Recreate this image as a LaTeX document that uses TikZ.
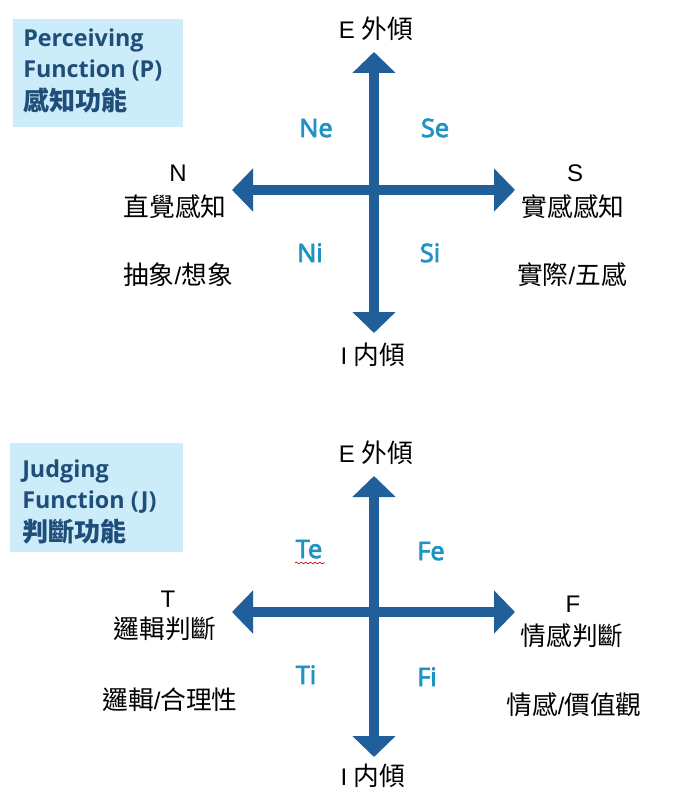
\documentclass[tikz,border=0pt]{standalone}
\usepackage{fontspec}
\setmainfont{Liberation Sans}
\newfontfamily\cjk{Noto Sans CJK TC}[Scale=1.07]
\newfontfamily\headfont{Open Sans}
\newfontfamily\fnfont{Open Sans}[FakeBold=3.2]
\usetikzlibrary{arrows.meta,decorations.pathmorphing}
\definecolor{axisblue}{RGB}{32,95,153}
\definecolor{teal}{RGB}{32,146,198}
\definecolor{boxfill}{RGB}{205,236,250}
\definecolor{headblue}{RGB}{31,78,121}
\tikzset{
  axis/.style={line width=7.5pt, draw=axisblue,
    {Triangle[length=15.75pt,width=31.5pt]}-{Triangle[length=15.75pt,width=31.5pt]}},
  lbl/.style={inner sep=0pt, font=\fontsize{18pt}{20pt}\selectfont, text=black},
  fn/.style={inner sep=0pt, font=\fnfont\fontsize{19pt}{21pt}\selectfont, text=teal},
  head/.style={inner sep=0pt, anchor=base west, font=\headfont\bfseries\fontsize{17.5pt}{20pt}\selectfont, text=headblue},
  headcjk/.style={head, font=\cjk\bfseries\fontsize{18.3pt}{20pt}\selectfont},
}
\begin{document}
\begin{tikzpicture}[x=0.75pt,y=-0.75pt]
\useasboundingbox (0,0) rectangle (695,805);
% ---------- top: perceiving ----------
\fill[boxfill] (13,19) rectangle (183,127);
\node[head] (p1) at (23,47) {Perceiving};
\node[head] (p2) at (23,78) {Function (P)};
\node[headcjk] (p3) at (23,111) {感知功能};

\coordinate (tU) at (374,52);
\coordinate (tD) at (374,333);
\coordinate (tL) at (232,190);
\coordinate (tR) at (515,190);
\draw[axis] (tD) -- (tU);
\draw[axis] (tL) -- (tR);

\node[lbl, anchor=base] (tE) at (376,39) {E {\cjk 外傾}};
\node[lbl, anchor=base] (tI) at (373,364) {I {\cjk 内傾}};
\node[lbl, anchor=base] (tN) at (178,182) {N};
\node[lbl, anchor=base] (tN2) at (175,217) {\cjk 直覺感知};
\node[lbl, anchor=base] (tN3) at (178,284) {{\cjk 抽象}/{\cjk 想象}};
\node[lbl, anchor=base] (tS) at (575,182) {S};
\node[lbl, anchor=base] (tS2) at (573,217) {\cjk 實感感知};
\node[lbl, anchor=base] (tS3) at (572,284) {{\cjk 實際}/{\cjk 五感}};

\node[fn, anchor=base] (Ne) at (316,137) {Ne};
\node[fn, anchor=base] (Se) at (435,137) {Se};
\node[fn, anchor=base] (Ni) at (310,262) {Ni};
\node[fn, anchor=base] (Si) at (430,262) {Si};

% ---------- bottom: judging ----------
\fill[boxfill] (10,443) rectangle (183,552);
\node[head] (j1) at (22,477) {Judging};
\node[head] (j2) at (22,508) {Function (J)};
\node[headcjk] (j3) at (22,541) {判斷功能};

\coordinate (bU) at (374,476);
\coordinate (bD) at (374,757);
\coordinate (bL) at (232,612);
\coordinate (bR) at (515,612);
\draw[axis] (bD) -- (bU);
\draw[axis] (bL) -- (bR);

\node[lbl, anchor=base] (bE) at (376,462) {E {\cjk 外傾}};
\node[lbl, anchor=base] (bI) at (373,785) {I {\cjk 内傾}};
\node[lbl, anchor=base] (bT) at (168,607) {T};
\node[lbl, anchor=base] (bT2) at (165,638) {\cjk 邏輯判斷};
\node[lbl, anchor=base] (bT3) at (170,709) {{\cjk 邏輯}/{\cjk 合理性}};
\node[lbl, anchor=base] (bF) at (573,612) {F};
\node[lbl, anchor=base] (bF2) at (572,645) {\cjk 情感判斷};
\node[lbl, anchor=base] (bF3) at (574,714) {{\cjk 情感}/{\cjk 價值觀}};

\node[fn, anchor=base] (Te) at (309,558) {Te};
\node[fn, anchor=base] (Fe) at (431,560) {Fe};
\node[fn, anchor=base] (Ti) at (306,684) {Ti};
\node[fn, anchor=base] (Fi) at (427,686) {Fi};

\coordinate (wA) at (295,563);
\coordinate (wB) at (325,563);
\draw[red!80!black, line width=0.5pt, decorate,
  decoration={snake, segment length=3.5pt, amplitude=0.6pt}] (wA) -- (wB);
\end{tikzpicture}
\end{document}
